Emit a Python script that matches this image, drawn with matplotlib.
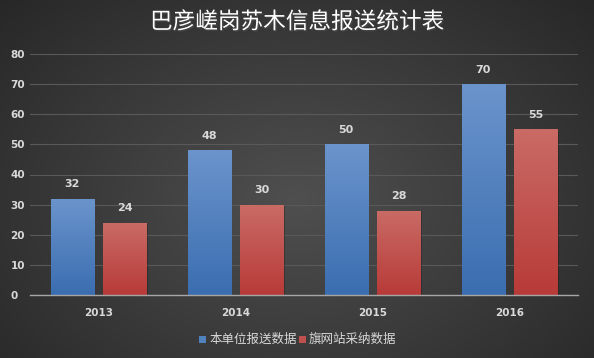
import matplotlib.pyplot as plt
import numpy as np
import matplotlib.patheffects as pe
from matplotlib.patches import Rectangle

plt.rcParams['font.family'] = ['Noto Sans CJK SC', 'DejaVu Sans']

years = ['2013', '2014', '2015', '2016']
reported = [32, 48, 50, 70]
adopted = [24, 30, 28, 55]
series_names = ['本单位报送数据', '旗网站采纳数据']

fig = plt.figure(figsize=(5.94, 3.58), dpi=100)

# radial gradient background
bg = fig.add_axes([0, 0, 1, 1], zorder=-10)
yy, xx = np.mgrid[0:358, 0:594]
r = np.sqrt(((xx - 297) / 420.0) ** 2 + ((yy - 200) / 300.0) ** 2)
shade = np.clip(0.31 - 0.16 * r, 0.15, 0.31)
bg.imshow(np.dstack([shade, shade, shade]), aspect='auto', extent=[0, 1, 0, 1])
bg.axis('off')

ax = fig.add_axes([30 / 594, 1 - 295 / 358, 548 / 594, 241 / 358])
ax.patch.set_alpha(0)

x = np.arange(len(years))
w = 0.314
off = w / 2 + 0.036

def gradient_bars(bars, top, bottom):
    grad = np.linspace(0, 1, 256).reshape(-1, 1)
    top = np.array(top); bottom = np.array(bottom)
    img = top + (bottom - top) * grad[..., None]
    for b in bars:
        bx, by = b.get_x(), b.get_y()
        bw, bh = b.get_width(), b.get_height()
        # soft shadow
        sh = Rectangle((bx + 0.012, by), bw, bh - 0.4, facecolor='black',
                       alpha=0.22, zorder=1.5, linewidth=0)
        ax.add_patch(sh)
        im = ax.imshow(img, extent=[bx, bx + bw, by, by + bh], aspect='auto',
                       zorder=2, origin='upper')
        im.set_clip_path(b)
        b.set_facecolor('none')

b1 = ax.bar(x - off, reported, w, color='#4f81bd', zorder=2, linewidth=0)
b2 = ax.bar(x + off, adopted, w, color='#c0504d', zorder=2, linewidth=0)
gradient_bars(b1, (0.42, 0.58, 0.80), (0.23, 0.43, 0.69))
gradient_bars(b2, (0.79, 0.42, 0.40), (0.72, 0.23, 0.22))

for bars, vals in ((b1, reported), (b2, adopted)):
    for b, v in zip(bars, vals):
        ax.text(b.get_x() + b.get_width() / 2, v + 4.8, str(v), ha='center',
                va='center', color='#d9d9d9', fontsize=8, fontweight='bold',
                family='DejaVu Sans')

ax.set_xlim(-0.5, 3.5)
ax.set_ylim(0, 80)
ax.set_yticks(range(0, 81, 10))
ax.set_xticks(x)
ax.set_xticklabels(years)
ax.yaxis.grid(True, color='#595959', linewidth=0.8, zorder=0)
ax.set_axisbelow(True)
for s in ['top', 'right', 'left']:
    ax.spines[s].set_visible(False)
ax.spines['bottom'].set_color('#a6a6a6')
ax.spines['bottom'].set_linewidth(1.0)
ax.tick_params(length=0, colors='#d9d9d9', labelsize=7.5)
ax.tick_params(axis='x', pad=9)
ax.tick_params(axis='y', pad=14)
for lab in ax.get_xticklabels() + ax.get_yticklabels():
    lab.set_fontweight('bold')
    lab.set_family('DejaVu Sans')
for lab in ax.get_yticklabels():
    lab.set_horizontalalignment('left')

fig.text(0.5, 1 - 22 / 358, '巴彦嵯岗苏木信息报送统计表', ha='center', va='center',
         color='white', fontsize=16.3,
         path_effects=[pe.withSimplePatchShadow(offset=(1, -1), alpha=0.6)])

# legend
fig.patches.append(Rectangle((199 / 594, 1 - 343 / 358), 7 / 594, 7 / 358,
                             transform=fig.transFigure, facecolor='#4f81bd', figure=fig))
fig.text(209 / 594, 1 - 339 / 358, series_names[0], ha='left', va='center',
         color='#d9d9d9', fontsize=9)
fig.patches.append(Rectangle((299 / 594, 1 - 343 / 358), 7 / 594, 7 / 358,
                             transform=fig.transFigure, facecolor='#c0504d', figure=fig))
fig.text(309 / 594, 1 - 339 / 358, series_names[1], ha='left', va='center',
         color='#d9d9d9', fontsize=9)

plt.savefig('out.png', dpi=100)
